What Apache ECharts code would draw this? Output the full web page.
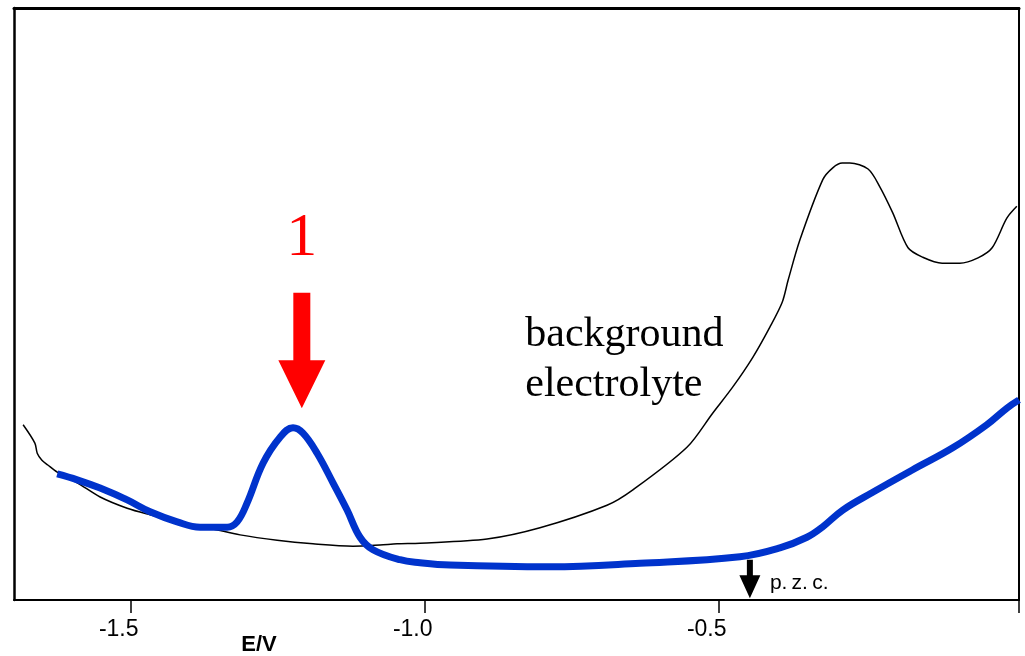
<!DOCTYPE html>
<html>
<head>
<meta charset="utf-8">
<script src="https://cdn.jsdelivr.net/npm/echarts@6/dist/echarts.min.js"></script>
<style>
html, body { margin: 0; padding: 0; background: #fff; }
#chart { width: 1025px; height: 656px; }
</style>
</head>
<body>
<div id="chart"></div>
<script>
// background electrolyte curve (E / V, current in arbitrary units)
var bgE = [-1.683, -1.663, -1.659, -1.651, -1.641, -1.625, -1.591, -1.552, -1.506, -1.467,
	-1.411, -1.360, -1.314, -1.251, -1.190, -1.122, -1.076, -1.047, -1.008, -0.894,
	-0.804, -0.690, -0.646, -0.554, -0.510, -0.476, -0.442, -0.413, -0.392, -0.382,
	-0.362, -0.323, -0.306, -0.290, -0.277, -0.246, -0.226, -0.204, -0.178, -0.153,
	-0.120, -0.090, -0.059, -0.035, -0.010, 0.007];
var bgI = [29.6, 26.5, 24.8, 23.6, 22.8, 21.6, 19.8, 17.4, 15.5, 14.4,
	13.0, 12.0, 11.0, 10.1, 9.5, 9.1, 9.3, 9.5, 9.6, 10.3,
	12.2, 16.0, 18.6, 25.8, 31.6, 36.0, 41.0, 46.1, 50.3, 54.0,
	60.8, 71.0, 73.0, 73.8, 73.8, 72.8, 69.8, 65.4, 59.5, 57.9,
	56.9, 56.9, 57.8, 59.5, 64.5, 66.5];

// curve with peak 1
var peakE = [-1.625, -1.591, -1.552, -1.506, -1.467, -1.421, -1.382, -1.336, -1.319, -1.302,
	-1.275, -1.246, -1.224, -1.207, -1.183, -1.156, -1.132, -1.110, -1.088, -1.042,
	-1.008, -0.957, -0.787, -0.634, -0.464, -0.396, -0.350, -0.324, -0.289, -0.238,
	-0.170, -0.102, -0.044, -0.010, 0.0107];
var peakI = [21.3, 20.3, 18.9, 16.9, 14.9, 13.2, 12.3, 12.3, 13.2, 16.4,
	23.1, 27.5, 29.1, 28.2, 24.8, 19.8, 15.2, 10.6, 8.5, 6.8,
	6.3, 5.9, 5.6, 6.2, 7.3, 8.8, 10.6, 12.3, 15.2, 18.2,
	22.0, 25.7, 29.6, 32.4, 33.8];

var tickValues = [-1.5, -1.0, -0.5];
var xMin = -1.6985, xMax = 0.0107;

// annotations: [E, current]
var peakLabelAt = [-1.209, 61.1];
var peakArrowTop = [-1.209, 51.9];
var peakArrowTip = [-1.209, 32.4];
var pzcArrowTop = [-0.447, 6.8];
var pzcArrowTip = [-0.447, 0.3];
var bgLabelAt = [-0.829, 40.5];

function zip(a, b) {
	return a.map(function (v, i) { return [v, b[i]]; });
}

var chart = echarts.init(document.getElementById('chart'));

var option = {
	animation: false,
	grid: { left: 14, right: 6, top: 8, bottom: 56 },
	xAxis: [{
		type: 'value',
		position: 'bottom',
		min: xMin,
		max: xMax,
		splitLine: { show: false },
		axisLine: { onZero: false, lineStyle: { color: '#000', width: 2 } },
		axisTick: {
			customValues: tickValues.concat([xMax]),
			inside: false,
			length: 13,
			lineStyle: { color: '#000', width: 1.5 }
		},
		axisLabel: {
			customValues: tickValues,
			formatter: function (v) { return v.toFixed(1); },
			color: '#000',
			fontSize: 23,
			fontFamily: 'Liberation Sans, Arial, sans-serif',
			margin: 18,
			padding: [0, 24, 0, 0]
		}
	}, {
		type: 'value',
		position: 'top',
		min: xMin,
		max: xMax,
		splitLine: { show: false },
		axisLine: { onZero: false, lineStyle: { color: '#000', width: 3 } },
		axisTick: { show: false },
		axisLabel: { show: false }
	}],
	yAxis: [{
		type: 'value',
		position: 'left',
		min: 0,
		max: 100,
		splitLine: { show: false },
		axisLine: { show: true, onZero: false, lineStyle: { color: '#000', width: 2.5 } },
		axisTick: { show: false },
		axisLabel: { show: false }
	}, {
		type: 'value',
		position: 'right',
		min: 0,
		max: 100,
		splitLine: { show: false },
		axisLine: { show: true, onZero: false, lineStyle: { color: '#000', width: 2 } },
		axisTick: { show: false },
		axisLabel: { show: false }
	}],
	series: [{
		name: 'background electrolyte',
		type: 'line',
		data: zip(bgE, bgI),
		showSymbol: false,
		smooth: 0.3,
		lineStyle: { color: '#000', width: 1.5 },
		z: 2
	}, {
		name: '1',
		type: 'line',
		data: zip(peakE, peakI),
		showSymbol: false,
		smooth: 0.4,
		lineStyle: { color: '#0033cc', width: 7 },
		z: 3
	}]
};

chart.setOption(option);

function px(p) {
	return chart.convertToPixel({ gridIndex: 0 }, p);
}

var lab = px(peakLabelAt);
var aTop = px(peakArrowTop);
var aTip = px(peakArrowTip);
var pTop = px(pzcArrowTop);
var pTip = px(pzcArrowTip);
var bgLab = px(bgLabelAt);

function downArrow(top, tip, shaftHalf, headHalf, headLen) {
	var x = tip[0];
	return [
		[x - shaftHalf, top[1]], [x + shaftHalf, top[1]],
		[x + shaftHalf, tip[1] - headLen], [x + headHalf, tip[1] - headLen],
		[x, tip[1]],
		[x - headHalf, tip[1] - headLen], [x - shaftHalf, tip[1] - headLen]
	];
}

chart.setOption({
	graphic: [{
		type: 'text',
		x: lab[0],
		y: lab[1],
		style: {
			text: '1',
			fill: '#ff0000',
			font: '62px "Liberation Serif", "Times New Roman", serif',
			textAlign: 'center',
			textVerticalAlign: 'middle'
		}
	}, {
		type: 'polygon',
		shape: { points: downArrow(aTop, aTip, 8.5, 23.5, 48) },
		style: { fill: '#ff0000' }
	}, {
		type: 'polygon',
		shape: { points: downArrow(pTop, pTip, 3, 10.5, 23) },
		style: { fill: '#000' }
	}, {
		type: 'text',
		x: pTip[0] + 20,
		y: 583,
		style: {
			text: 'p.\u2009z.\u2009c.',
			fill: '#000',
			font: '21px "Liberation Sans", Arial, sans-serif',
			textVerticalAlign: 'middle'
		}
	}, {
		type: 'text',
		x: bgLab[0],
		y: 360,
		style: {
			text: 'background\nelectrolyte',
			fill: '#000',
			font: '42px "Liberation Serif", "Times New Roman", serif',
			lineHeight: 50,
			textVerticalAlign: 'middle'
		}
	}, {
		type: 'text',
		x: 259,
		y: 645,
		style: {
			text: 'E/V',
			fill: '#000',
			font: 'bold 22px "Liberation Sans", Arial, sans-serif',
			textAlign: 'center',
			textVerticalAlign: 'middle'
		}
	}]
});
</script>
</body>
</html>
